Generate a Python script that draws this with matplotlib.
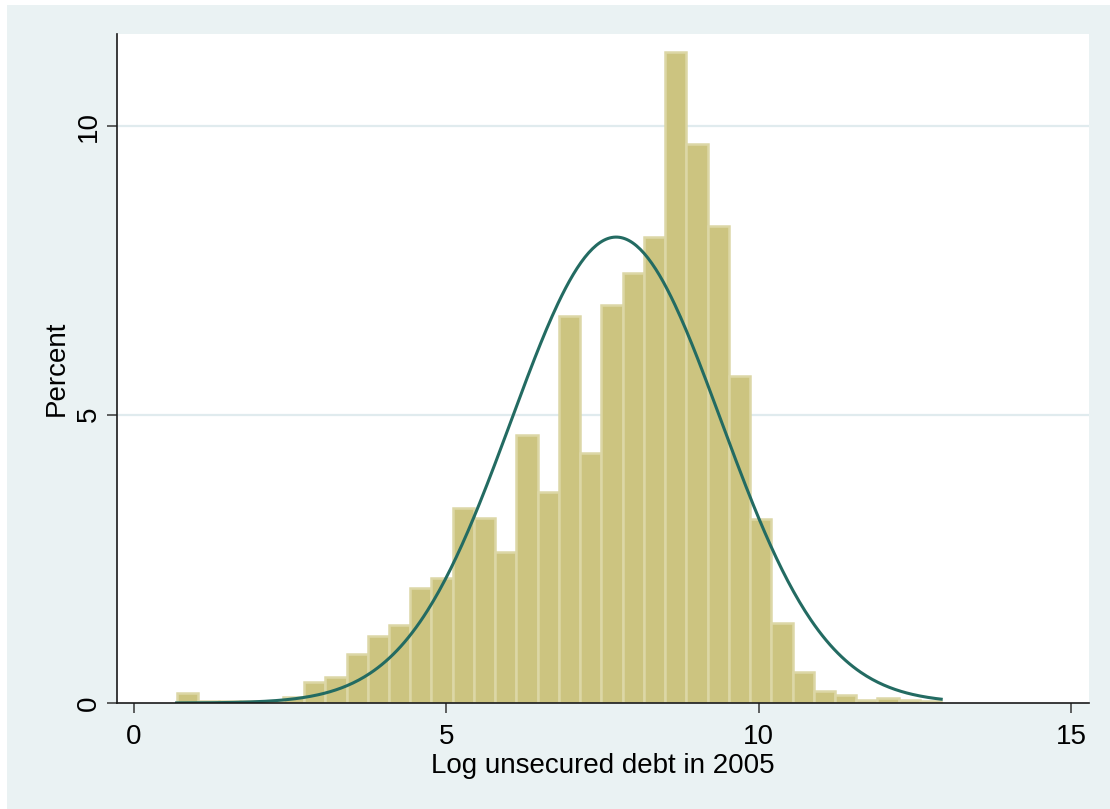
import numpy as np
import matplotlib
matplotlib.use("Agg")
from matplotlib import pyplot as plt
from matplotlib.patches import Rectangle

plt.rcParams['font.family'] = ['Liberation Sans', 'DejaVu Sans']

# histogram bins (Stata style: start at min, fixed width)
bin_start = 0.684
bin_width = 0.34
# percent per bin
percent = [0.17, 0.03, 0.03, 0.03, 0.03, 0.10, 0.36, 0.45, 0.85, 1.16,
           1.35, 2.00, 2.17, 3.38, 3.20, 2.62, 4.64, 3.66, 6.71, 4.33,
           6.90, 7.45, 8.08, 11.28, 9.70, 8.27, 5.67, 3.19, 1.39, 0.54,
           0.21, 0.14, 0.05, 0.09, 0.05, 0.03]

# normal overlay parameters
mu, sigma = 7.72, 1.679

x_ticks = [0, 5, 10, 15]
y_ticks = [0, 5, 10]

bg = '#EAF2F3'
bar_fill = '#CCC480'
bar_edge = '#DCD7A6'
line_col = '#236B62'

fig = plt.figure(figsize=(11.1, 8.09), dpi=100)
fig.patch.set_facecolor('white')
# graph region (small white margin on top/left like the export)
fig.patches.append(Rectangle((7/1110, 0), 1 - 7/1110, 1 - 5/809,
                             transform=fig.transFigure, facecolor=bg,
                             edgecolor='none', zorder=-10))

ax = fig.add_axes([117/1110, 1 - 703/809, (1089 - 117)/1110, (703 - 34)/809])
ax.set_facecolor('white')

n = len(percent)
edges = bin_start + bin_width * np.arange(n + 1)
ax.bar(edges[:-1], percent, width=bin_width, align='edge',
       color=bar_fill, edgecolor=bar_edge, linewidth=1.8, zorder=2)

xs = np.linspace(edges[0], edges[-1], 400)
dens = 100 * bin_width * np.exp(-0.5 * ((xs - mu) / sigma) ** 2) / (sigma * np.sqrt(2 * np.pi))
ax.plot(xs, dens, color=line_col, linewidth=2.2, zorder=3)

ax.set_xlim(-0.27, 15.29)
ax.set_ylim(0, 11.6)
ax.set_xticks(x_ticks)
ax.set_yticks(y_ticks)
ax.set_yticklabels([str(t) for t in y_ticks], rotation=90, va='center')

for t in y_ticks[1:]:
    ax.axhline(t, color='#E0EBEE', linewidth=1.6, zorder=1)

for s in ['top', 'right']:
    ax.spines[s].set_visible(False)
for s in ['left', 'bottom']:
    ax.spines[s].set_color('#1a1a1a')
    ax.spines[s].set_linewidth(1.2)
ax.spines['bottom'].set_zorder(4)

ax.tick_params(axis='both', direction='out', length=7, width=1.2,
               color='#444444', labelsize=20)
ax.tick_params(axis='x', pad=8)
ax.tick_params(axis='y', pad=4)

ax.set_xlabel('Log unsecured debt in 2005', fontsize=20, labelpad=2)
ax.set_ylabel('Percent', fontsize=20, labelpad=4)

fig.savefig('out.png', dpi=100, facecolor=fig.get_facecolor())
